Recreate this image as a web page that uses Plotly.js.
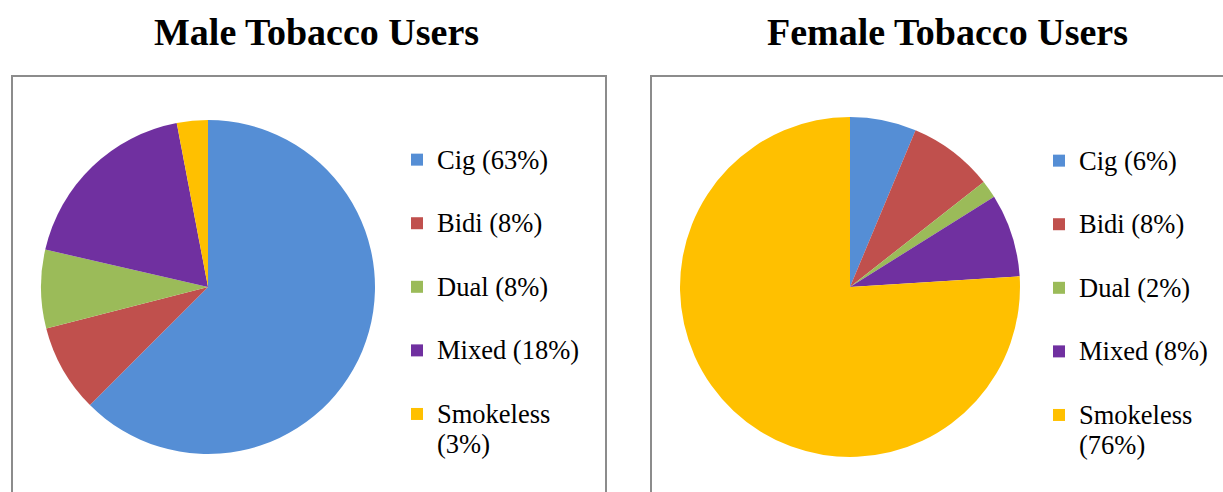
<!DOCTYPE html>
<html>
<head>
<meta charset="utf-8">
<script src="https://cdn.plot.ly/plotly-3.0.1.min.js"></script>
<style>
html,body{margin:0;padding:0;background:#fff;}
#chart{width:1223px;height:492px;}
</style>
</head>
<body>
<div id="chart"></div>
<script>
var categories = ["Cig", "Bidi", "Dual", "Mixed", "Smokeless"];
var maleValues = [62.5, 8.5, 7.6, 18.4, 3.0];
var femaleValues = [6.3, 8.1, 1.7, 7.9, 76.0];
var maleLabels = ["Cig (63%)", "Bidi (8%)", "Dual (8%)", "Mixed (18%)", "Smokeless<br>(3%)"];
var femaleLabels = ["Cig (6%)", "Bidi (8%)", "Dual (2%)", "Mixed (8%)", "Smokeless<br>(76%)"];
var titles = ["Male Tobacco Users", "Female Tobacco Users"];
var colors = ["#558ED5", "#C0504D", "#9BBB59", "#7030A0", "#FFC000"];

var W = 1223, H = 492;
function px(x){ return x / W; }
function py(y){ return 1 - y / H; }

// every legend entry takes two lines (single-line labels get a blank second line);
// glyphs are drawn a bit larger than the line pitch; the mark keeps the two charts' labels distinct
function pad(lbls, mark){
  return lbls.map(function(l){
    var lines = l.split("<br>");
    if (lines.length < 2) lines.push(" ");
    return lines.map(function(s){ return "<span style='font-size:26.5px'>" + s + "</span>"; }).join("<br>") + mark;
  });
}

var serif = "Liberation Serif";

var traces = [
  {
    type: "pie",
    labels: pad(maleLabels, ""),
    values: maleValues,
    marker: {colors: colors, line: {width: 0}},
    sort: false,
    direction: "clockwise",
    rotation: 0,
    textinfo: "none",
    hoverinfo: "value",
    domain: {x: [px(41), px(375)], y: [py(454), py(120)]},
    legend: "legend"
  },
  {
    type: "pie",
    labels: pad(femaleLabels, "\u200b"),
    values: femaleValues,
    marker: {colors: colors, line: {width: 0}},
    sort: false,
    direction: "clockwise",
    rotation: 0,
    textinfo: "none",
    hoverinfo: "value",
    domain: {x: [px(680), px(1020)], y: [py(457), py(117)]},
    legend: "legend2"
  }
];

var layout = {
  width: W, height: H,
  margin: {l: 0, r: 0, t: 0, b: 0},
  paper_bgcolor: "#fff",
  font: {family: serif, color: "#000"},
  showlegend: true,
  legend: {x: px(397), y: py(138), xanchor: "left", yanchor: "top",
           font: {family: serif, size: 23.3, color: "#000"}, valign: "top", bgcolor: "rgba(0,0,0,0)"},
  legend2: {x: px(1039), y: py(139), xanchor: "left", yanchor: "top",
            font: {family: serif, size: 23.3, color: "#000"}, valign: "top", bgcolor: "rgba(0,0,0,0)"},
  shapes: [
    {type: "rect", xref: "paper", yref: "paper", x0: px(12), x1: px(606), y0: -0.1, y1: py(76),
     line: {color: "#8c8c8c", width: 2}, fillcolor: "rgba(0,0,0,0)", layer: "below"},
    {type: "rect", xref: "paper", yref: "paper", x0: px(651), x1: 1.1, y0: -0.1, y1: py(76),
     line: {color: "#8c8c8c", width: 2}, fillcolor: "rgba(0,0,0,0)", layer: "below"}
  ],
  annotations: [
    {text: "<b>" + titles[0] + "</b>", xref: "paper", yref: "paper", x: px(316), y: py(32),
     xanchor: "center", yanchor: "middle", showarrow: false,
     font: {family: serif, size: 38, color: "#000"}},
    {text: "<b>" + titles[1] + "</b>", xref: "paper", yref: "paper", x: px(947), y: py(32),
     xanchor: "center", yanchor: "middle", showarrow: false,
     font: {family: serif, size: 38, color: "#000"}}
  ]
};

Plotly.newPlot("chart", traces, layout, {displayModeBar: false, staticPlot: true});
</script>
</body>
</html>
